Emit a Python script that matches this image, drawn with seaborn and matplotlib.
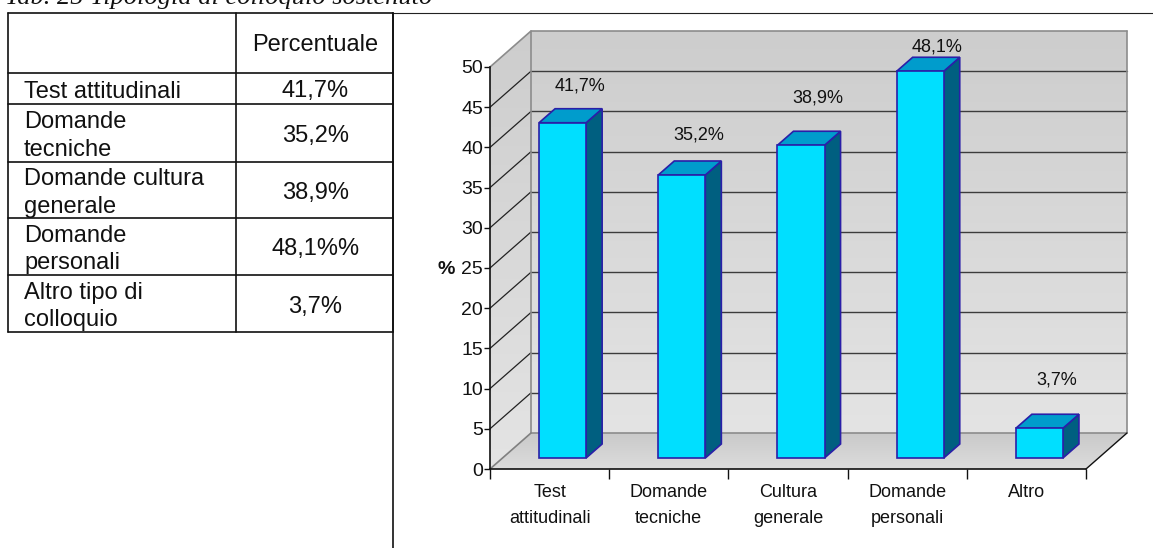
import matplotlib
matplotlib.use("Agg")
import numpy as np
import pandas as pd
import matplotlib.pyplot as plt
import seaborn as sns
from matplotlib.colors import LinearSegmentedColormap
from matplotlib.patches import Polygon

# ---- dati ----
categories = ["Test attitudinali", "Domande tecniche", "Cultura generale", "Domande personali", "Altro"]
tick_labels = ["Test\nattitudinali", "Domande\ntecniche", "Cultura\ngenerale", "Domande\npersonali", "Altro"]
values = [41.7, 35.2, 38.9, 48.1, 3.7]
value_labels = ["41,7%", "35,2%", "38,9%", "48,1%", "3,7%"]
y_ticks = [0, 5, 10, 15, 20, 25, 30, 35, 40, 45, 50]

table_rows = ["Test attitudinali", "Domande\ntecniche", "Domande cultura\ngenerale", "Domande\npersonali", "Altro tipo di\ncolloquio"]
table_values = ["41,7%", "35,2%", "38,9%", "48,1%%", "3,7%"]

# ---- layout (pixel) ----
W, H = 1153, 548
AX_L, AX_R, AX_TOP, AX_BOT = 490, 1086, 67, 469
PX_X = (AX_R - AX_L) / 5
PX_Y = (AX_BOT - AX_TOP) / 50
WALL_DX, WALL_DY = 41 / PX_X, 36 / PX_Y
BAR_DX, BAR_DY = 16 / PX_X, 14 / PX_Y
BAR_SHIFT, BAR_BASE = 13 / PX_X, 11 / PX_Y
label_lift = [37, 40, 47, 24, 48]

sns.set_theme(style="white")
plt.rcParams["font.family"] = ["Liberation Sans", "DejaVu Sans"]

fig = plt.figure(figsize=(W / 100, H / 100), dpi=100, facecolor="white")
ax = fig.add_axes([AX_L / W, 1 - AX_BOT / H, (AX_R - AX_L) / W, (AX_BOT - AX_TOP) / H])

df = pd.DataFrame({"categoria": categories, "valore": values})
sns.barplot(data=df, x="categoria", y="valore", width=0.395, color="#00DFFF", saturation=1,
            edgecolor="#2A1FA8", linewidth=1.2, zorder=5, ax=ax)

x0, x1 = -0.5, 4.5
ax.patch.set_visible(False)

# parete di fondo, parete laterale, pavimento
grad = np.linspace(0, 1, 256).reshape(-1, 1)
wall_cmap = LinearSegmentedColormap.from_list("wall", ["#cdcdcd", "#e4e4e4"])
floor_cmap = LinearSegmentedColormap.from_list("floor", ["#c9c9c9", "#dcdcdc"])
ax.imshow(grad, cmap=wall_cmap, extent=[x0 + WALL_DX, x1 + WALL_DX, WALL_DY, 50 + WALL_DY],
          aspect="auto", zorder=0, clip_on=False)


def clipped_gradient(cmap, extent, corners):
    im = ax.imshow(grad, cmap=cmap, extent=extent, aspect="auto", zorder=0)
    im.set_clip_box(fig.bbox)
    im.set_clip_path(Polygon(corners, transform=ax.transData))
    return im


clipped_gradient(wall_cmap, [x0, x0 + WALL_DX, 0, 50 + WALL_DY],
                 [(x0, 0), (x0 + WALL_DX, WALL_DY), (x0 + WALL_DX, 50 + WALL_DY), (x0, 50)])
clipped_gradient(floor_cmap, [x0, x1 + WALL_DX, 0, WALL_DY],
                 [(x0, 0), (x1, 0), (x1 + WALL_DX, WALL_DY), (x0 + WALL_DX, WALL_DY)])
ax.set_xlim(x0, x1)
ax.set_ylim(0, 50)

# griglia
for t in y_ticks[1:-1]:
    ax.plot([x0 + WALL_DX, x1 + WALL_DX], [t + WALL_DY] * 2, color="#3c3c3c", lw=1.0, zorder=1, clip_on=False)
    ax.plot([x0, x0 + WALL_DX], [t, t + WALL_DY], color="#222222", lw=0.9, zorder=1, clip_on=False)
ax.plot([x0, x0 + WALL_DX, x0 + WALL_DX, x1 + WALL_DX, x1 + WALL_DX], [50, 50 + WALL_DY, WALL_DY, WALL_DY, 50 + WALL_DY],
        color="#8c8c8c", lw=1.2, zorder=1, clip_on=False)
ax.plot([x0 + WALL_DX, x1 + WALL_DX], [50 + WALL_DY] * 2, color="#8c8c8c", lw=1.2, zorder=1, clip_on=False)
ax.plot([x0, x0 + WALL_DX], [0, WALL_DY], color="#808080", lw=1.2, zorder=1, clip_on=False)
ax.plot([x1, x1 + WALL_DX], [0, WALL_DY], color="#111111", lw=1.0, zorder=1, clip_on=False)

# barre 3D: faccia frontale da seaborn, lato e tetto aggiunti
for bar, lab, lift in zip(ax.patches, value_labels, label_lift):
    bar.set_x(bar.get_x() + BAR_SHIFT)
    bar.set_y(BAR_BASE)
    xl, xr = bar.get_x(), bar.get_x() + bar.get_width()
    yb, yt = BAR_BASE, BAR_BASE + bar.get_height()
    ax.add_patch(Polygon([(xr, yb), (xr + BAR_DX, yb + BAR_DY), (xr + BAR_DX, yt + BAR_DY), (xr, yt)],
                         facecolor="#005F80", edgecolor="#2A1FA8", lw=1.2, zorder=4, clip_on=False))
    ax.add_patch(Polygon([(xl, yt), (xr, yt), (xr + BAR_DX, yt + BAR_DY), (xl + BAR_DX, yt + BAR_DY)],
                         facecolor="#009CCC", edgecolor="#2A1FA8", lw=1.2, zorder=4, clip_on=False))
    ax.annotate(lab, (xl + bar.get_width() / 2, BAR_BASE + bar.get_height()), xytext=(17, lift), textcoords="offset pixels",
                ha="center", va="center", fontsize=13, color="#111111", zorder=6, annotation_clip=False)

# assi
sns.despine(ax=ax, top=True, right=True)
ax.spines["left"].set_color("#111111")
ax.spines["bottom"].set_color("#111111")
ax.spines["left"].set_linewidth(1.2)
ax.spines["bottom"].set_linewidth(1.2)
ax.set_xlabel("")
ax.set_ylabel("")
ax.set_yticks(y_ticks)
ax.tick_params(axis="y", left=True, length=4, width=1, color="#111111", pad=1, labelsize=14, labelcolor="#111111")
ax.set_xticks(np.arange(x0, x1 + 1))
ax.set_xticklabels([])
ax.set_xticks(np.arange(0, 5), labels=tick_labels, minor=True)
ax.tick_params(axis="x", which="major", bottom=True, length=7, width=1, color="#111111")
ax.tick_params(axis="x", which="minor", bottom=False, length=0, pad=11, labelsize=13, labelcolor="#111111")
for t in ax.get_xticklabels(minor=True):
    t.set_linespacing(1.7)
    t.set_va("top")

# tabella e titolo, in coordinate pixel
ov = fig.add_axes([0, 0, 1, 1], zorder=10)
ov.set_xlim(0, W)
ov.set_ylim(H, 0)
ov.axis("off")

ov.text(5, 4, "Tab. 25 Tipologia di colloquio sostenuto", family=["Liberation Serif"], style="italic",
        fontsize=19, ha="left", va="baseline", color="#111111")
ov.plot([393, W], [13, 13], color="#222222", lw=0.8)
ov.plot([393, 393], [13, H], color="#111111", lw=1.2)

row_edges = [13, 73, 104, 162, 218, 275, 332]
col_edges = [8, 236, 393]
for y in row_edges:
    ov.plot([col_edges[0], col_edges[2]], [y, y], color="#111111", lw=1.2)
for x in col_edges:
    ov.plot([x, x], [row_edges[0], row_edges[-1]], color="#111111", lw=1.2)

ov.text((col_edges[1] + col_edges[2]) / 2 + 1, (row_edges[0] + row_edges[1]) / 2 + 2, "Percentuale",
        fontsize=17, ha="center", va="center", color="#111111")
for i, (r, v) in enumerate(zip(table_rows, table_values)):
    yc = (row_edges[i + 1] + row_edges[i + 2]) / 2 + 3
    ov.text(24, yc, r, fontsize=17, ha="left", va="center", linespacing=1.3, color="#111111")
    ov.text((col_edges[1] + col_edges[2]) / 2 + 1, yc, v, fontsize=17, ha="center", va="center", color="#111111")

ov.text(446, 270, "%", fontsize=14, fontweight="bold", ha="center", va="center", color="#111111")

fig.savefig("out.png", dpi=100)
